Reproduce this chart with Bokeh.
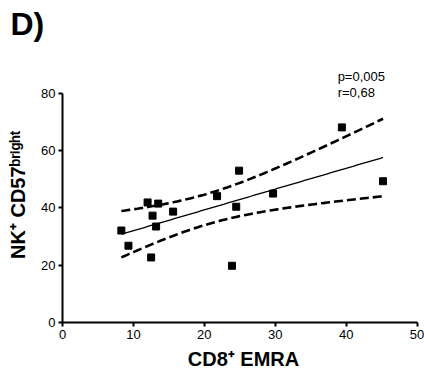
import numpy as np
from bokeh.plotting import figure
from bokeh.models import Label, Range1d, FixedTicker, ColumnDataSource, Title
from bokeh.embed import file_html
from bokeh.resources import INLINE

# Data
cd8_emra = [8.3, 9.3, 12.0, 13.5, 12.7, 13.2, 12.5, 15.6, 21.8, 24.9, 24.5, 23.9, 29.7, 39.4, 45.2]
nk_cd57 = [32.1, 26.8, 41.9, 41.5, 37.3, 33.5, 22.7, 38.7, 44.1, 53.0, 40.4, 19.8, 45.0, 68.1, 49.3]
x_ticks = [0, 10, 20, 30, 40, 50]
y_ticks = [0, 20, 40, 60, 80]
stats_text = "p=0,005\nr=0,68"
panel_tag = "D)"

FONT = "Liberation Sans"

# Linear regression with 95% confidence band
x = np.array(cd8_emra)
y = np.array(nk_cd57)
n = len(x)
slope, intercept = np.polyfit(x, y, 1)
xs = np.linspace(x.min(), x.max(), 100)
ys = slope * xs + intercept
resid = y - (slope * x + intercept)
s = np.sqrt(np.sum(resid ** 2) / (n - 2))
sxx = np.sum((x - x.mean()) ** 2)
t_crit = 2.160  # t(0.975, df=13)
half = t_crit * s * np.sqrt(1.0 / n + (xs - x.mean()) ** 2 / sxx)

p = figure(width=424, height=373, x_range=Range1d(0, 51.05), y_range=Range1d(0, 89),
           output_backend="svg", toolbar_location=None,
           min_border_left=62, min_border_right=0, min_border_top=0, min_border_bottom=51)
p.outline_line_color = None
p.grid.visible = False
p.background_fill_color = "white"
p.border_fill_color = "white"

# spacer between the frame and the panel tag
spacer = Title(text=" ", text_font_size="2px", standoff=15)
p.add_layout(spacer, "above")

p.title.text = panel_tag
p.title.text_font = FONT
p.title.text_font_size = "32px"
p.title.text_font_style = "bold"
p.title.text_color = "black"
p.title.align = "left"
p.title.vertical_align = "top"
p.title.offset = -52
p.title.standoff = 10

for ax in (p.xaxis[0], p.yaxis[0]):
    ax.axis_line_width = 2
    ax.axis_line_color = "black"
    ax.major_tick_line_width = 2
    ax.major_tick_line_color = "black"
    ax.major_tick_out = 4
    ax.major_tick_in = 0
    ax.minor_tick_line_color = None
    ax.major_label_text_font = FONT
    ax.major_label_text_font_size = "13px"
    ax.major_label_text_color = "black"
    ax.axis_label_text_font = FONT
    ax.axis_label_text_font_size = "20px"
    ax.axis_label_text_font_style = "bold"
    ax.axis_label_text_color = "black"
    ax.major_label_standoff = 3

p.xaxis.ticker = FixedTicker(ticks=x_ticks)
p.yaxis.ticker = FixedTicker(ticks=y_ticks)
p.xaxis.bounds = (0, 50)
p.yaxis.bounds = (0, 80)
p.xaxis.axis_label = "CD8⁺ EMRA"
p.yaxis.axis_label = "NK⁺ CD57ᵇʳⁱᵍʰᵗ"
p.xaxis.axis_label_standoff = 6
p.yaxis.axis_label_standoff = 9

p.line(xs, ys + half, line_color="black", line_width=2.6, line_dash="9 4")
p.line(xs, ys - half, line_color="black", line_width=2.6, line_dash="9 4")
p.line(xs, ys, line_color="black", line_width=1.3)

src = ColumnDataSource(dict(x=cd8_emra, y=nk_cd57))
p.scatter("x", "y", source=src, marker="square", size=7, color="black")

p.add_layout(Label(x=38.8, y=77.6, text=stats_text, text_font=FONT,
                   text_font_size="13px", text_color="black", text_line_height=1.1))

open("out.html", "w").write(file_html(p, INLINE))
